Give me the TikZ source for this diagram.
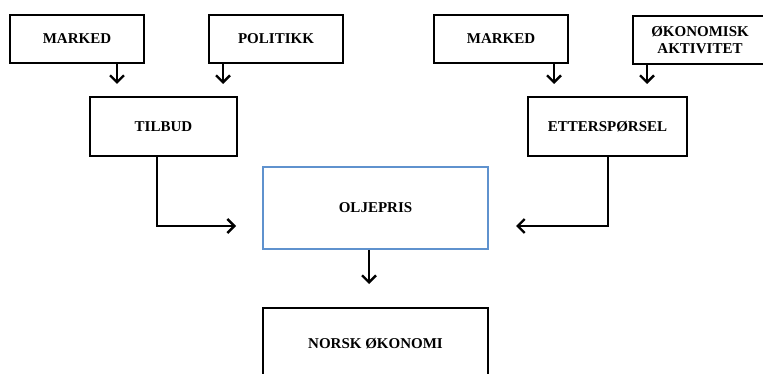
\documentclass[tikz,border=0pt]{standalone}
\usepackage{fontspec}
\setmainfont{Liberation Serif}
\usetikzlibrary{arrows.meta}
\definecolor{boxblue}{RGB}{95,146,206}
\begin{document}
\begin{tikzpicture}[x=1pt,y=-1pt,
  box/.style={draw=black,line width=2.2pt,fill=white,inner sep=0pt,
    font=\fontsize{15}{17}\selectfont\bfseries,align=center},
  arr/.style={line width=2.4pt,-{Straight Barb[length=7pt,width=14pt,line width=2.4pt]}}]
\useasboundingbox (0,0) rectangle (763,374);
\clip (0,0) rectangle (763,374);
\node[box,minimum width=134pt,minimum height=48pt] (m1) at (77,39) {MARKED};
\node[box,minimum width=134pt,minimum height=48pt] (pol) at (276,39) {POLITIKK};
\node[box,minimum width=134pt,minimum height=48pt] (m2) at (501,39) {MARKED};
\node[box,minimum width=134pt,minimum height=48pt] (oko) at (700,40) {ØKONOMISK\\AKTIVITET};
\node[box,minimum width=147pt,minimum height=59pt] (tilbud) at (163.5,126.5) {TILBUD};
\node[box,minimum width=159pt,minimum height=59pt] (etter) at (607.5,126.5) {ETTERSPØRSEL};
\node[box,draw=boxblue,line width=1.6pt,minimum width=225pt,minimum height=82pt] (olje) at (375.5,208) {OLJEPRIS};
\node[box,minimum width=225pt,minimum height=72pt] (norsk) at (375.5,344) {NORSK ØKONOMI};
\coordinate (a1) at (117,84);
\coordinate (a2) at (223,84);
\coordinate (a3) at (554,84);
\coordinate (a4) at (647,84);
\coordinate (c1) at (157,0);
\coordinate (c2) at (608,0);
\coordinate (t1) at (236,226);
\coordinate (t2) at (516,226);
\coordinate (o1) at (369,284);
\draw[arr] (m1.south -| a1) -- (a1);
\draw[arr] (pol.south -| a2) -- (a2);
\draw[arr] (m2.south -| a3) -- (a3);
\draw[arr] (oko.south -| a4) -- (a4);
\draw[arr] (tilbud.south -| c1) |- (t1);
\draw[arr] (etter.south -| c2) |- (t2);
\draw[arr] (olje.south -| o1) -- (o1);
\end{tikzpicture}
\end{document}
